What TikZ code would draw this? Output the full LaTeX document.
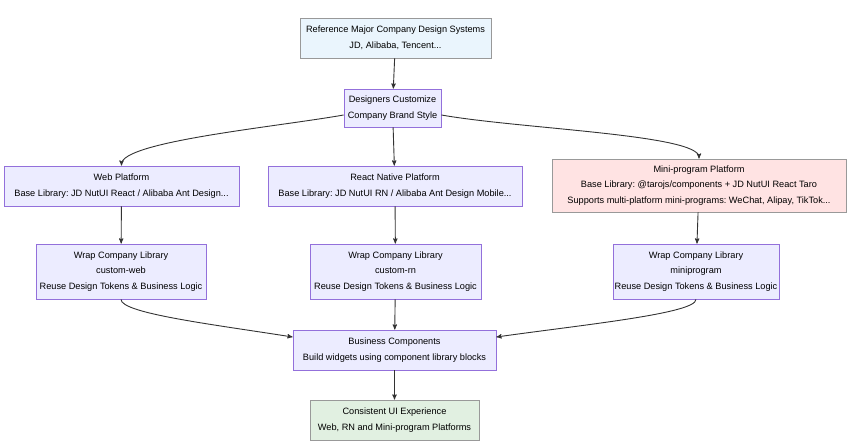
\documentclass[tikz,border=0pt]{standalone}
\usepackage{fontspec}
\setmainfont{Liberation Sans}
\usetikzlibrary{arrows,positioning}

\definecolor{boxfill}{HTML}{ECECFF}
\definecolor{boxline}{HTML}{9370DB}
\definecolor{reffill}{HTML}{EAF5FD}
\definecolor{minifill}{HTML}{FFE3E3}
\definecolor{okfill}{HTML}{E1F0E1}
\definecolor{greyline}{HTML}{999999}
\definecolor{arrowcol}{HTML}{333333}

\tikzset{
  block/.style={draw=boxline,fill=boxfill,rectangle,align=center,inner sep=0pt,
    font=\fontsize{9.2}{15.5}\selectfont,line width=0.8pt},
  refblock/.style={block,draw=greyline,fill=reffill},
  miniblock/.style={block,draw=greyline,fill=minifill},
  okblock/.style={block,draw=greyline,fill=okfill},
}
\frenchspacing

\begin{document}
\begin{tikzpicture}[x=1pt,y=1pt,>=stealth',auto,align=center]
\useasboundingbox (0,0) rectangle (847,-442);
			\node[refblock,minimum width=191pt,minimum height=40pt] (ref) at (395.5,-38) {Reference Major Company Design Systems\\JD, Alibaba, Tencent...};
			\node[block,minimum width=97pt,minimum height=38pt] (des) at (392.5,-108) {Designers Customize\\Company Brand Style};
			\node[block,minimum width=235pt,minimum height=40pt] (web) at (121.5,-186) {Web Platform\\Base Library: JD NutUI React / Alibaba Ant Design...};
			\node[block,minimum width=254pt,minimum height=40pt] (rn) at (395,-186) {React Native Platform\\Base Library: JD NutUI RN / Alibaba Ant Design Mobile...};
			\node[miniblock,minimum width=294pt,minimum height=53pt] (mini) at (699,-185.5) {Mini-program Platform\\Base Library: @tarojs/components + JD NutUI React Taro\\Supports multi-platform mini-programs: WeChat, Alipay, TikTok...};
			\node[block,minimum width=170pt,minimum height=55pt] (wweb) at (121,-271.5) {Wrap Company Library\\custom-web\\Reuse Design Tokens \& Business Logic};
			\node[block,minimum width=171pt,minimum height=55pt] (wrn) at (395.5,-271.5) {Wrap Company Library\\custom-rn\\Reuse Design Tokens \& Business Logic};
			\node[block,minimum width=166pt,minimum height=55pt] (wmini) at (696,-271.5) {Wrap Company Library\\miniprogram\\Reuse Design Tokens \& Business Logic};
			\node[block,minimum width=203pt,minimum height=40pt] (biz) at (394.5,-350) {Business Components\\Build widgets using component library blocks};
			\node[okblock,minimum width=169pt,minimum height=40pt] (ok) at (394.5,-420) {Consistent UI Experience\\Web, RN and Mini-program Platforms};
			\path[->,color=arrowcol,line width=0.9pt]
			(ref) edge (des)
			([yshift=-7pt]des.west) edge [out=190,in=90,out distance=70pt,in distance=24pt] (web.north)
			(des) edge (rn)
			([yshift=-7pt]des.east) edge [out=-10,in=90,out distance=80pt,in distance=24pt] (mini.north)
			(web) edge (wweb)
			(rn) edge (wrn)
			(mini) edge (wmini)
			(wweb.south) edge [out=-90,in=171,out distance=14pt,in distance=80pt] ([yshift=13pt]biz.west)
			(wrn) edge (biz)
			(wmini.south) edge [out=-90,in=8,out distance=14pt,in distance=90pt] ([yshift=13pt]biz.east)
			(biz) edge (ok);
		\end{tikzpicture}
\end{document}
